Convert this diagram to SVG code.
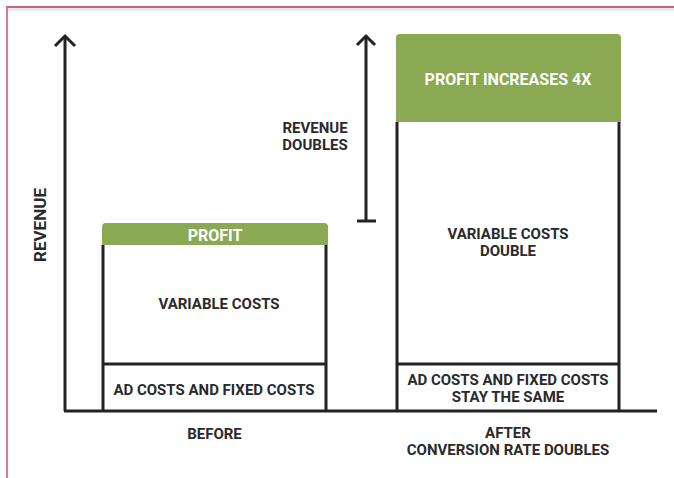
<svg xmlns="http://www.w3.org/2000/svg" width="674" height="478" viewBox="0 0 674 478">
<style>
.ln{stroke:#222326;stroke-width:3;fill:none;stroke-linecap:butt}
.t{font-family:Roboto,"Liberation Sans",sans-serif;font-weight:bold;font-size:15px;fill:#2a2a2c;text-anchor:middle}
.w{fill:#ffffff;font-size:16px}
.g{fill:#8ba853}
</style>
<rect x="0" y="0" width="674" height="478" fill="#ffffff"/>
<g id="frame">
<rect x="8" y="8" width="666" height="3" fill="#e9e8ee"/>
<line x1="6" y1="7" x2="674" y2="7" stroke="#b5335a" stroke-width="1.6"/>
<line x1="7" y1="7" x2="7" y2="478" stroke="#d97c99" stroke-width="2"/>
</g>
<g id="connectors">
<path class="ln" d="M65 36 V411 M64 411 H657"/>
<path class="ln" d="M55 46 L65 36 L75 46"/>
<path class="ln" d="M366 36 V221 M357 221 H376"/>
<path class="ln" d="M357 45 L366 36 L375 45"/>
</g>
<g id="y-label">
<text class="t" style="font-size:17px" transform="translate(46,225) rotate(-90)">REVENUE</text>
</g>
<g id="before-bar">
<path class="g" d="M102 245 V227 Q102 223 106 223 H324 Q328 223 328 227 V245 Z"/>
<text class="t w" x="215" y="241">PROFIT</text>
<path class="ln" d="M103 245 V411 M326 245 V411 M103 364 H326"/>
<text class="t" x="219" y="309">VARIABLE COSTS</text>
<text class="t" x="214" y="395">AD COSTS AND FIXED COSTS</text>
<text class="t" x="214.5" y="439">BEFORE</text>
</g>
<g id="after-bar">
<path class="g" d="M396 122 V38 Q396 34 400 34 H617 Q621 34 621 38 V122 Z"/>
<text class="t w" x="508" y="85">PROFIT INCREASES 4X</text>
<path class="ln" d="M397 122 V411 M619 122 V411 M397 364 H619"/>
<text class="t" x="508" y="239">VARIABLE COSTS</text>
<text class="t" x="508" y="256">DOUBLE</text>
<text class="t" x="508" y="385">AD COSTS AND FIXED COSTS</text>
<text class="t" x="508" y="402">STAY THE SAME</text>
<text class="t" x="508" y="438">AFTER</text>
<text class="t" x="508" y="455">CONVERSION RATE DOUBLES</text>
</g>
<g id="revenue-doubles">
<text class="t" x="315" y="133">REVENUE</text>
<text class="t" x="315" y="150">DOUBLES</text>
</g>
</svg>
